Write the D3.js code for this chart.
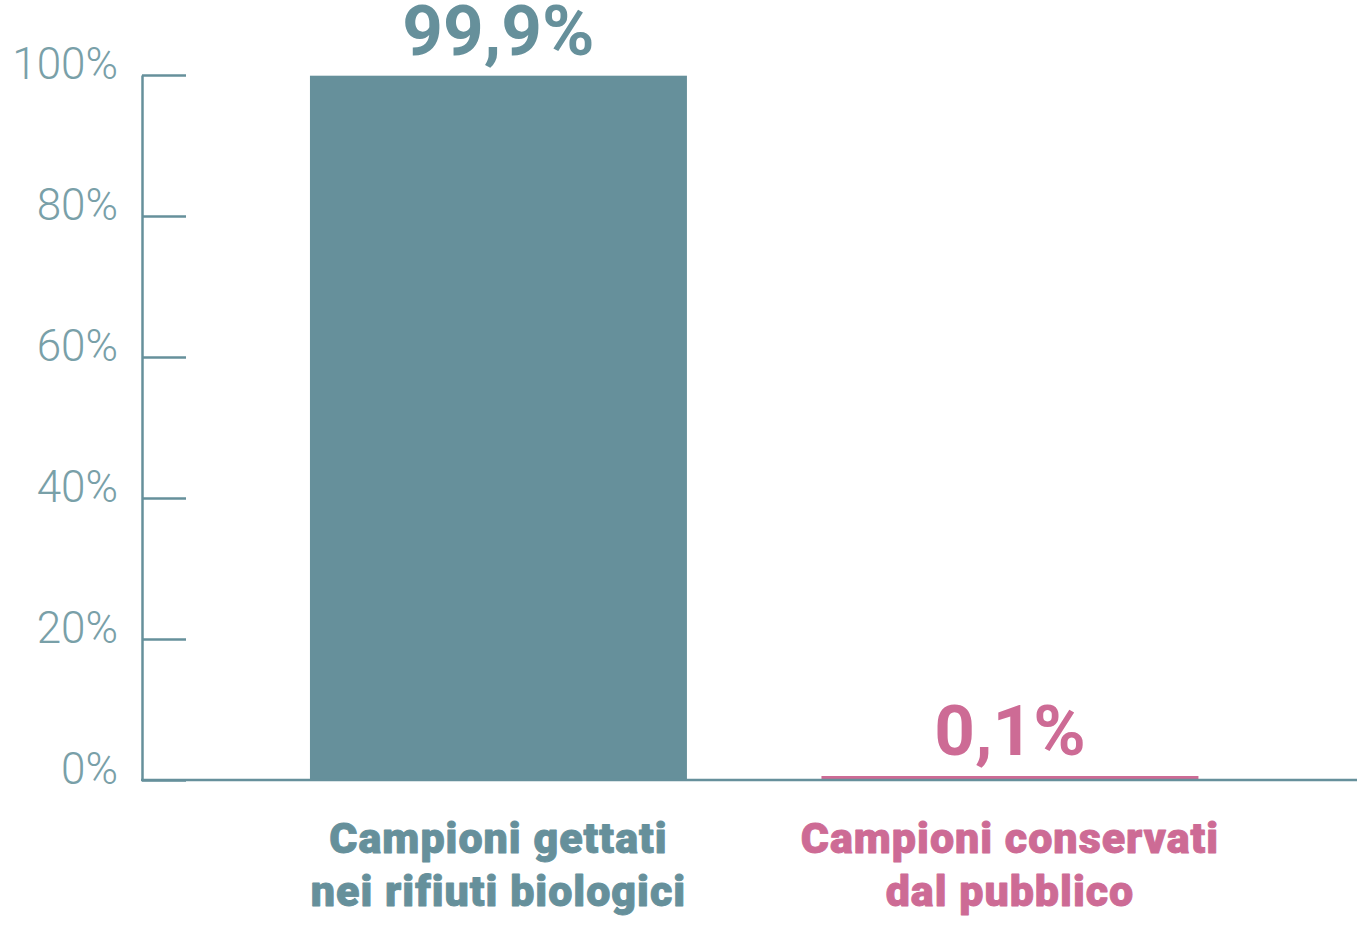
<!DOCTYPE html>
<html><head><meta charset="utf-8">
<script src="https://cdn.jsdelivr.net/npm/d3@7"></script>
<style>body{margin:0;background:#fff}svg{display:block}</style>
</head><body>
<svg id="c" width="1367" height="926"></svg>
<script>
const categories = ["Campioni gettati nei rifiuti biologici", "Campioni conservati dal pubblico"];
const labelLines = [["Campioni gettati", "nei rifiuti biologici"], ["Campioni conservati", "dal pubblico"]];
const values = [99.9, 0.1];
const valueLabels = ["99,9%", "0,1%"];
const tickValues = [0, 20, 40, 60, 80, 100];
const colors = ["#66909b", "#cd6b95"];

const svg = d3.select("#c");
const axisColor = "#66909b";
const y = d3.scaleLinear().domain([0, 100]).range([780, 75]);
const x = d3.scaleBand().domain(categories).range([242.7, 1265.7]).paddingInner(0.263).paddingOuter(0.1315);

// bars
svg.selectAll("rect.bar").data(values).join("rect")
  .attr("class", "bar")
  .attr("x", (d, i) => x(categories[i]))
  .attr("width", x.bandwidth())
  .attr("y", d => Math.min(y(d), y(0) - 4))
  .attr("height", d => Math.max(y(0) - y(d), 4))
  .attr("fill", (d, i) => colors[i]);

// y axis
const ax = svg.append("g").attr("transform", "translate(142,0)")
  .call(d3.axisLeft(y).tickValues(tickValues).tickFormat(d => d + "%").tickSizeInner(-44).tickSizeOuter(0).tickPadding(24));
ax.select(".domain").attr("stroke", axisColor).attr("stroke-width", 2.5);
ax.selectAll(".tick line").attr("stroke", axisColor).attr("stroke-width", 2.5);
ax.selectAll(".tick text").attr("fill", "#79a0a8").attr("font-family", "Roboto").attr("font-weight", 300)
  .attr("font-size", 44).attr("dy", "3px");

// baseline
svg.append("line").attr("x1", 141).attr("x2", 1357).attr("y1", y(0)).attr("y2", y(0))
  .attr("stroke", axisColor).attr("stroke-width", 2.5);

// value labels
svg.selectAll("text.val").data(values).join("text")
  .attr("class", "val")
  .attr("x", (d, i) => x(categories[i]) + x.bandwidth() / 2)
  .attr("y", d => Math.min(y(d), y(0) - 4) - 21)
  .attr("text-anchor", "middle")
  .attr("font-family", "Roboto").attr("font-weight", 700).attr("font-size", 71)
  .attr("fill", (d, i) => colors[i])
  .text((d, i) => valueLabels[i]);

// category labels
labelLines.forEach((lines, i) => {
  const t = svg.append("text")
    .attr("text-anchor", "middle")
    .attr("font-family", "Roboto").attr("font-weight", 900).attr("font-size", 43)
    .attr("letter-spacing", "1px")
    .attr("fill", colors[i]).attr("stroke", colors[i]).attr("stroke-width", 0.9)
    .attr("stroke-linejoin", "round");
  lines.forEach((l, j) => {
    t.append("tspan").attr("x", x(categories[i]) + x.bandwidth() / 2).attr("y", 853 + j * 53).text(l);
  });
});
</script>
</body></html>
